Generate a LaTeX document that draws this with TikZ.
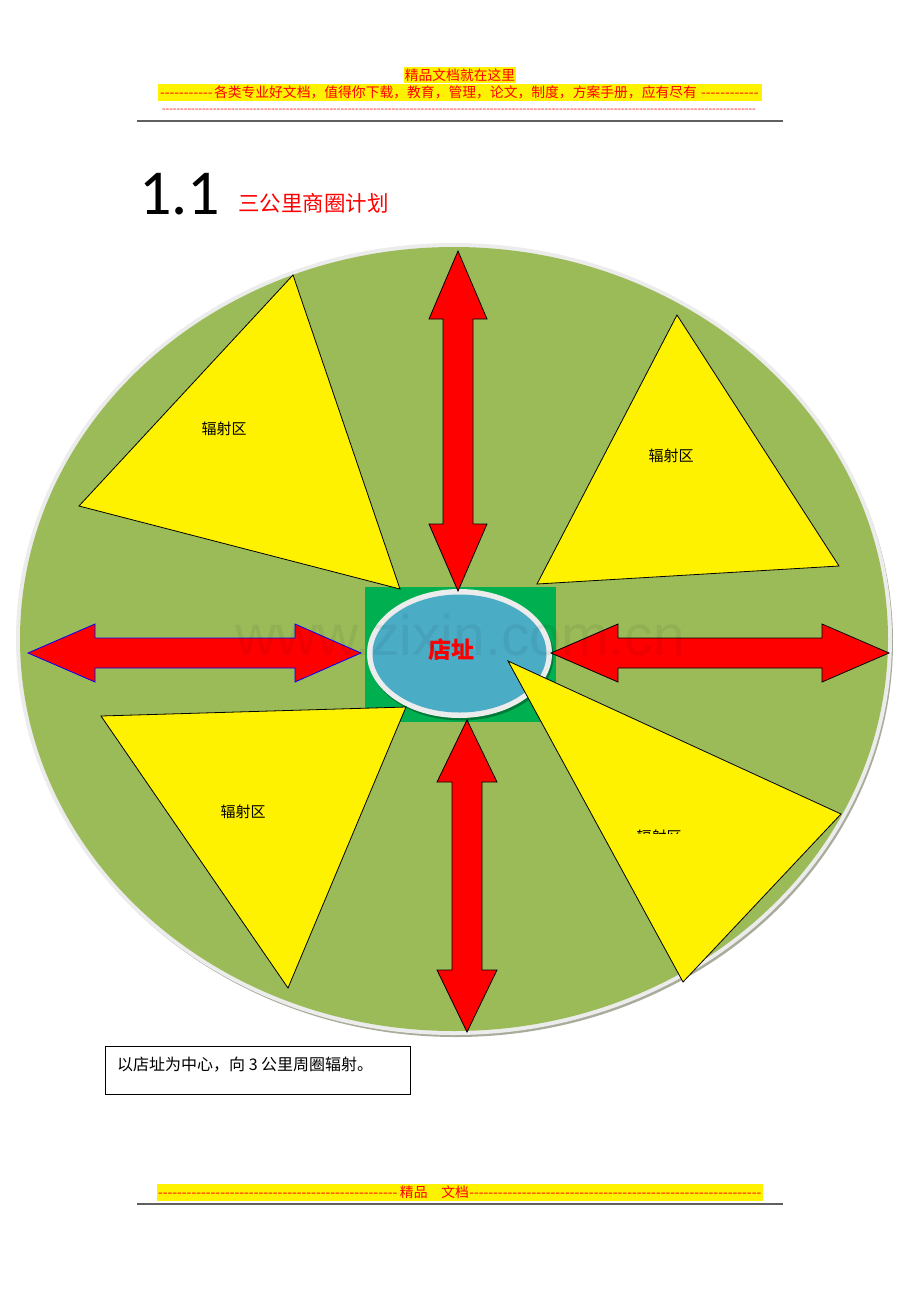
\documentclass[tikz,border=0pt]{standalone}
\usepackage{fontspec}
\setmainfont{Carlito}
\newfontfamily\cjk{Noto Sans CJK SC}
\newfontfamily\wmfont{Liberation Sans}
\newcommand{\dashfill}{\leaders\hbox{-}\hfill}

\begin{document}
\begin{tikzpicture}[x=1pt,y=-1pt,
  tri/.style={draw=black, fill=yellow, line width=0.8pt, line join=miter},
  dbl/.style={fill=red, line width=0.8pt, line join=miter},
  zone/.style={font=\cjk\fontsize{15}{15}\selectfont, text=black, inner sep=0pt},
  hilite/.style={fill=yellow, text=red, inner sep=0pt, font=\cjk\fontsize{13.8}{14}\selectfont}]
\useasboundingbox (0,0) rectangle (920,1302);
\definecolor{fieldGreen}{RGB}{155,187,89}
\definecolor{siteGreen}{RGB}{0,176,80}
\definecolor{siteBlue}{RGB}{75,172,198}
\definecolor{rimGray}{RGB}{236,236,236}
\definecolor{shadowGray}{RGB}{168,172,154}
\definecolor{ruleGray}{RGB}{96,96,96}
\node[hilite, minimum width=112pt, minimum height=16pt] (head) at (460,75) {精品文档就在这里};
\node[hilite, minimum width=604pt, minimum height=17pt] (slogan) at (460,92.5) {\makebox[600pt]{\makebox[54pt]{\dashfill}各类专业好文档，值得你下载，教育，管理，论文，制度，方案手册，应有尽有\dashfill}};
\node[text=red, inner sep=0pt, font=\cjk\fontsize{10.5}{10}\selectfont] (dashes) at (460,111) {\makebox[596pt]{\dashfill}};
\draw[line width=1.5pt, color=ruleGray] (137,121) -- (783,121);
\node[anchor=base west, inner sep=0pt, font=\fontsize{64}{64}\selectfont] (secnum) at (139,214) {1.1};
\node[anchor=base west, inner sep=0pt, text=red, font=\cjk\fontsize{21.5}{21.5}\selectfont] (sectitle) at (238,211) {三公里商圈计划};
\fill[shadowGray] (456,642) ellipse [x radius=437, y radius=395];
\fill[rimGray] (454,639) ellipse [x radius=438, y radius=396];
\fill[fieldGreen] (454,639) ellipse [x radius=434, y radius=392];
\fill[siteGreen] (365,587) rectangle (556,722);
\fill[black, opacity=0.3] (461,656) ellipse [x radius=92.5, y radius=64.5];
\fill[rimGray] (459.5,653.5) ellipse [x radius=92.5, y radius=64.5];
\fill[siteBlue] (459.5,653.5) ellipse [x radius=87, y radius=59];
\node[text=red, inner sep=0pt, font=\cjk\bfseries\fontsize{23}{23}\selectfont] (site) at (451,650) {店址};
\draw[dbl, draw=black] (458,251) -- (487,319) -- (473,319) -- (473,524) -- (487,524) -- (458,591) -- (429,524) -- (443,524) -- (443,319) -- (429,319) -- cycle;
\draw[dbl, draw=black] (467,720) -- (497,782) -- (482,782) -- (482,970) -- (497,970) -- (467,1032) -- (437,970) -- (452,970) -- (452,782) -- (437,782) -- cycle;
\draw[dbl, draw=blue] (28,653) -- (95,624) -- (95,638) -- (295,638) -- (295,624) -- (361,653) -- (295,682) -- (295,668) -- (95,668) -- (95,682) -- cycle;
\draw[dbl, draw=black] (551,653) -- (618,624) -- (618,638) -- (822,638) -- (822,624) -- (889,653) -- (822,682) -- (822,668) -- (618,668) -- (618,682) -- cycle;
\draw[tri] (293,275) -- (79,506) -- (400,589) -- cycle;
\draw[tri] (677,315) -- (537,584) -- (839,566) -- cycle;
\draw[tri] (101,716) -- (406,707) -- (288,988) -- cycle;
\draw[tri] (508,661) -- (841,814) -- (683,982) -- cycle;
\node[zone] (zoneNW) at (224,429) {辐射区};
\node[zone] (zoneNE) at (671,456) {辐射区};
\node[zone] (zoneSW) at (243,812) {辐射区};
\begin{scope}
  \clip (600,800) rectangle (720,833);
  \node[zone] (zoneSE) at (659,837) {辐射区};
\end{scope}
\node[text=black, text opacity=0.06, inner sep=0pt, anchor=base, font=\wmfont\fontsize{57}{57}\selectfont] (mark) at (460,655) {www.zixin.com.cn};
\node[draw=black, line width=0.8pt, minimum width=305pt, minimum height=48pt, inner sep=0pt] (note) at (257.5,1070) {};
\node[anchor=west, inner sep=0pt, font=\cjk\fontsize{16}{16}\selectfont] (noteText) at (117,1065) {以店址为中心，向 3 公里周圈辐射。};
\node[hilite, minimum width=606pt, minimum height=17pt] (foot) at (460,1192.5) {\makebox[604pt]{\makebox[242pt]{\dashfill}精品　文档\dashfill}};
\draw[line width=1.5pt, color=ruleGray] (137,1204) -- (783,1204);
\end{tikzpicture}
\end{document}
